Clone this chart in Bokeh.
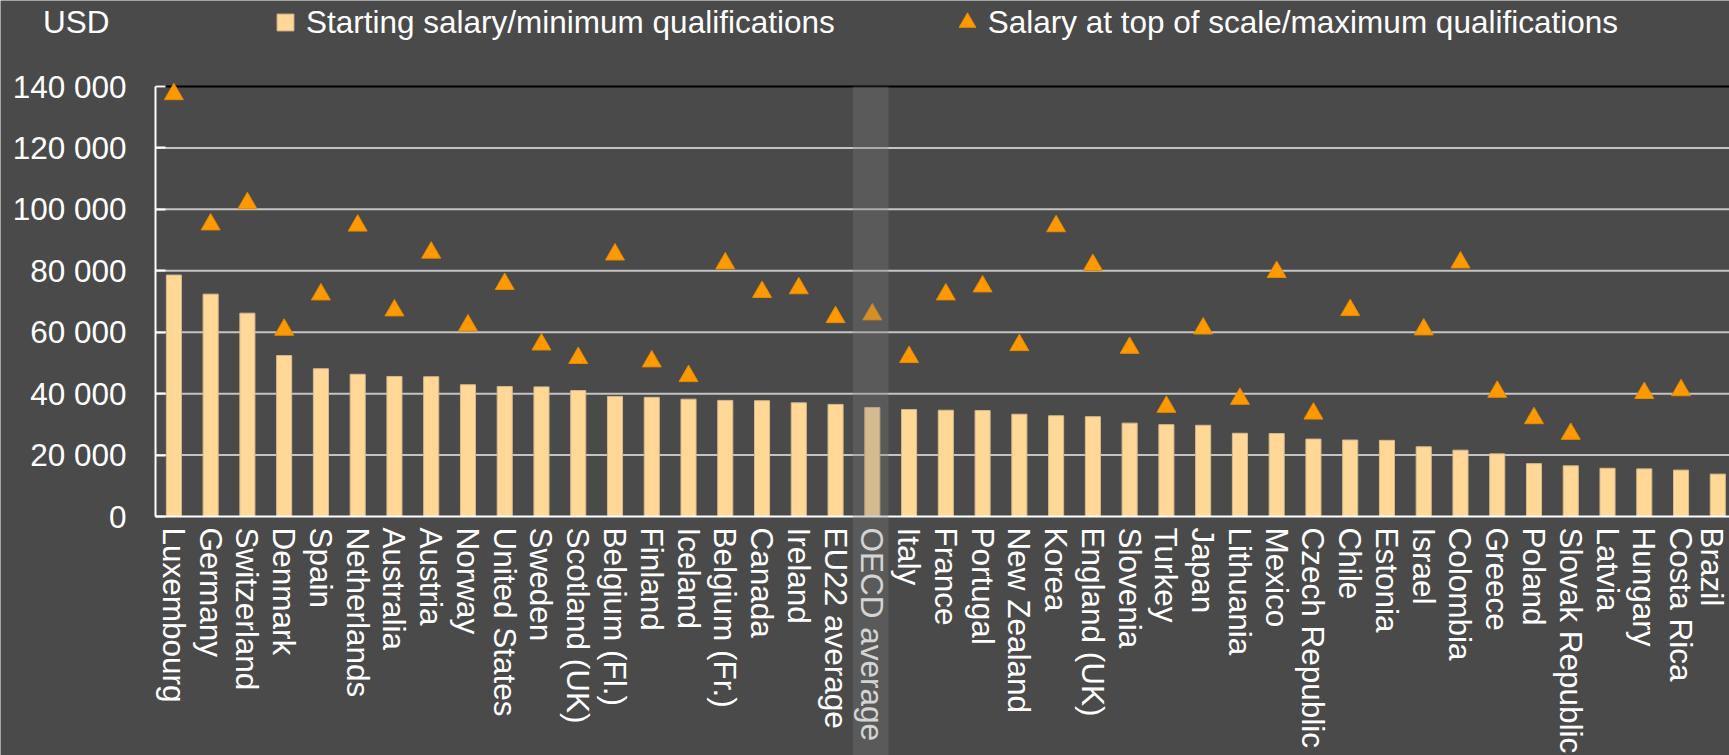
from bokeh.plotting import figure
from bokeh.models import (Range1d, FixedTicker, Legend, LegendItem,
                          BoxAnnotation, ColumnDataSource)
from bokeh.embed import file_html
from bokeh.resources import INLINE

# ---------------- data ----------------
countries = [
    "Luxembourg", "Germany", "Switzerland", "Denmark", "Spain", "Netherlands",
    "Australia", "Austria", "Norway", "United States", "Sweden", "Scotland (UK)",
    "Belgium (Fl.)", "Finland", "Iceland", "Belgium (Fr.)", "Canada", "Ireland",
    "EU22 average", "OECD average", "Italy", "France", "Portugal", "New Zealand",
    "Korea", "England (UK)", "Slovenia", "Turkey", "Japan", "Lithuania", "Mexico",
    "Czech Republic", "Chile", "Estonia", "Israel", "Colombia", "Greece", "Poland",
    "Slovak Republic", "Latvia", "Hungary", "Costa Rica", "Brazil",
]
starting_salary = [
    78600, 72400, 66200, 52400, 48100, 46300,
    45600, 45500, 42900, 42300, 42200, 41000,
    39100, 38800, 38200, 37800, 37700, 37000,
    36500, 35500, 34800, 34600, 34500, 33300,
    32800, 32500, 30400, 29900, 29700, 27100, 27000,
    25200, 24900, 24800, 22700, 21600, 20400, 17200,
    16500, 15700, 15500, 15100, 13800,
]
top_salary = [
    137500, 95100, 102000, 60800, 72300, 94700,
    67100, 85900, 62200, 75700, 56000, 51600,
    85300, 50500, 45700, 82400, 73100, 74300,
    64900, 65800, 51900, 72300, 74900, 55800,
    94500, 81900, 54900, 35700, 61200, 38300, 79600,
    33500, 67200, None, 60900, 82700, 40600, 32000,
    26900, None, 40200, 41100, None,
]
series_names = ["Starting salary/minimum qualifications",
                "Salary at top of scale/maximum qualifications"]
y_ticks = [0, 20000, 40000, 60000, 80000, 100000, 120000, 140000]
y_tick_labels = ["0", "20 000", "40 000", "60 000", "80 000", "100 000",
                 "120 000", "140 000"]
unit_label = "USD"
highlight = "OECD average"

# ---------------- styling / layout ----------------
BG = "#4a4a4a"
FONT = "Liberation Sans"
BAR = "#FFD898"
BAR_LINE = "#d9b98b"
TRI = "#FF9900"
TRI_LINE = "#e68a00"
W, H = 1729, 755
PLOT_LEFT_PX = 155      # page x of the value axis
ZERO_PX = 516           # page y of value 0
TOP_PX = 86             # page y of the top tick
STEP_PX = 36.76         # px per category

N = len(countries)
xs = [i + 0.5 for i in range(N)]
tops = [float("nan") if v is None else v for v in top_salary]
blank = [float("nan")] * N
src = ColumnDataSource(dict(x=xs, start=starting_salary, top=tops, blank=blank))

px_per_unit = (ZERO_PX - TOP_PX) / y_ticks[-1]
x_start = -PLOT_LEFT_PX / STEP_PX
x_end = (W - PLOT_LEFT_PX) / STEP_PX
y_start = -(H - ZERO_PX) / px_per_unit
y_end = ZERO_PX / px_per_unit

p = figure(width=W, height=H,
           x_range=Range1d(x_start, x_end), y_range=Range1d(y_start, y_end),
           output_backend="svg", toolbar_location=None,
           min_border_left=0, min_border_top=0, min_border_bottom=0,
           min_border_right=0,
           background_fill_color=BG, border_fill_color=BG,
           outline_line_color=None)
p.title.text = ""
p.xgrid.visible = False
p.ygrid.visible = False

# grid lines (light) and top border (black), starting at the value axis
p.segment(x0=0, x1=N, y0=y_ticks[1:-1], y1=y_ticks[1:-1],
          line_color="#c4c4c4", line_width=2)
p.segment(x0=[0], x1=[N], y0=[y_ticks[-1]], y1=[y_ticks[-1]],
          line_color="black", line_width=2)

# y axis, pinned at the first category edge
ya = p.yaxis[0]
ya.fixed_location = 0
ya.bounds = (y_ticks[0], y_ticks[-1])
ya.ticker = FixedTicker(ticks=y_ticks)
ya.major_label_overrides = dict(zip(y_ticks, y_tick_labels))
ya.axis_line_color = "white"
ya.axis_line_width = 2
ya.major_tick_in = 10
ya.major_tick_out = 0
ya.major_tick_line_color = "white"
ya.major_tick_line_width = 2
ya.minor_tick_line_color = None
ya.major_label_standoff = 29
ya.major_label_text_color = "white"
ya.major_label_text_font = FONT
ya.major_label_text_font_size = "31.5px"

# x axis, pinned at value 0
xa = p.xaxis[0]
xa.fixed_location = 0
xa.bounds = (0, N)
xa.ticker = FixedTicker(ticks=xs)
xa.major_label_overrides = dict(zip(xs, countries))
xa.major_label_orientation = "vertical"
xa.axis_line_color = "white"
xa.axis_line_width = 2
xa.major_tick_in = 0
xa.major_tick_out = 0
xa.minor_tick_line_color = None
xa.major_label_standoff = 11
xa.major_label_text_color = "white"
xa.major_label_text_font = FONT
xa.major_label_text_font_size = "31.5px"

# marks
bars = p.vbar(x="x", top="start", width=0.41, source=src,
              fill_color=BAR, line_color=BAR_LINE, line_width=1)
tris = p.scatter(x="x", y="top", marker="triangle", size=19, source=src,
                 fill_color=TRI, line_color=TRI_LINE, line_width=1)

# highlight band for OECD average (down over its tick label)
hi = countries.index(highlight)
band = BoxAnnotation(left=hi - 0.03, right=hi + 0.94, bottom=y_start,
                     top=y_ticks[-1], fill_color="#7b7b7b", fill_alpha=0.33,
                     line_color=None, level="overlay")
p.add_layout(band)

# legend row at the top (unit label + two series keys)
unit_key = p.scatter(x="x", y="blank", source=src, marker="square",
                     fill_alpha=0, line_alpha=0)
bar_key = p.scatter(x="x", y="blank", source=src, marker="square",
                    fill_color=BAR, line_color=BAR_LINE, line_width=1)
legend = Legend(
    items=[LegendItem(label=unit_label, renderers=[unit_key]),
           LegendItem(label=series_names[0], renderers=[bar_key]),
           LegendItem(label=series_names[1], renderers=[tris])],
    location=(1, H - 1 - 42), orientation="horizontal",
    glyph_width=42, glyph_height=42, label_standoff=0, label_width=110,
    spacing=111, padding=0, margin=0,
    border_line_color=None, background_fill_alpha=0,
    label_text_color="white", label_text_font=FONT,
    label_text_font_size="31.5px")
p.add_layout(legend)

html = file_html(p, INLINE)
html = html.replace("<body>", '<body style="background-color:%s;">' % BG, 1)
open("out.html", "w").write(html)
